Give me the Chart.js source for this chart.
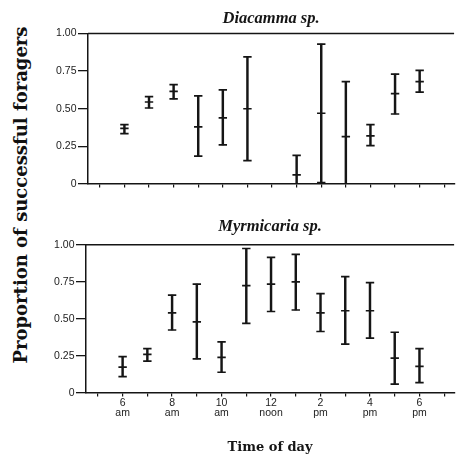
<!DOCTYPE html>
<html>
<head>
<meta charset="utf-8">
<script src="https://cdn.jsdelivr.net/npm/chart.js@4/dist/chart.umd.min.js"></script>
<style>
  html, body { margin:0; padding:0; background:#fff; width:460px; height:458px; overflow:hidden; }
  canvas { position:absolute; left:0; }
  #ytitle { position:absolute; left:19.5px; top:195px; transform:translate(-50%,-50%) rotate(-90deg);
            white-space:nowrap; font-family:'DejaVu Serif', serif; font-weight:bold; font-size:18px; color:#111; }
</style>
</head>
<body>
<div id="ytitle">Proportion of successful foragers</div>
<canvas id="top" width="460" height="192" style="top:0px"></canvas>
<canvas id="bot" width="460" height="258" style="top:200px"></canvas>
<script>
// ---- data ----
const diacammaHours = [6, 7, 8, 9, 10, 11, 13, 14, 15, 16, 17, 18];
const diacammaMean  = [0.37, 0.545, 0.615, 0.38, 0.44, 0.50, 0.06, 0.47, 0.315, 0.32, 0.60, 0.68];
const diacammaLow   = [0.335, 0.505, 0.565, 0.185, 0.26, 0.155, 0.0, 0.01, 0.0, 0.255, 0.465, 0.61];
const diacammaHigh  = [0.395, 0.58, 0.66, 0.585, 0.625, 0.845, 0.19, 0.93, 0.68, 0.395, 0.73, 0.755];

const myrmicariaHours = [6, 7, 8, 9, 10, 11, 12, 13, 14, 15, 16, 17, 18];
const myrmicariaMean  = [0.175, 0.26, 0.54, 0.48, 0.24, 0.725, 0.735, 0.75, 0.54, 0.555, 0.555, 0.235, 0.18];
const myrmicariaLow   = [0.11, 0.215, 0.425, 0.23, 0.14, 0.47, 0.55, 0.56, 0.415, 0.33, 0.37, 0.06, 0.07];
const myrmicariaHigh  = [0.245, 0.30, 0.66, 0.735, 0.345, 0.975, 0.915, 0.935, 0.67, 0.785, 0.745, 0.41, 0.30];

const xTickMarks  = [5, 6, 7, 8, 9, 10, 11, 12, 13, 14, 15, 16, 17, 18, 19];
const xTickHours  = [6, 8, 10, 12, 14, 16, 18];
const xTickLabels = [["6","am"], ["8","am"], ["10","am"], ["12","noon"], ["2","pm"], ["4","pm"], ["6","pm"]];
const yTickValues = [0, 0.25, 0.5, 0.75, 1];
const yTickLabels = ["0", "0.25", "0.50", "0.75", "1.00"];

const INK = '#151515';

const topLine = {
  id: 'topLine',
  afterDraw(chart) {
    const a = chart.chartArea, c = chart.ctx;
    c.save(); c.strokeStyle = INK; c.lineWidth = 1.5;
    c.beginPath(); c.moveTo(a.left, a.top); c.lineTo(a.right, a.top); c.stroke();
    c.restore();
  }
};

function pts(hours, vals) { return hours.map((h, i) => ({x: h, y: vals[i]})); }
function rng(hours, lo, hi) { return hours.map((h, i) => ({x: h, y: [lo[i], hi[i]]})); }

function makeChart(id, title, titlePad, hours, mean, lo, hi, showX, yWidth, xHeight) {
  const marker = { type:'line', showLine:false, pointStyle:'line', pointRadius:4.2, pointHoverRadius:4.2,
                   pointBorderWidth:1.7, pointBorderColor:INK, borderColor:INK, backgroundColor:INK };
  return new Chart(document.getElementById(id), {
    type: 'bar',
    data: {
      datasets: [
        { type:'bar', data: rng(hours, lo, hi), backgroundColor: INK, borderWidth:0, barThickness:1.8, grouped:false },
        Object.assign({ data: pts(hours, mean) }, marker),
        Object.assign({ data: pts(hours, lo) }, marker),
        Object.assign({ data: pts(hours, hi) }, marker)
      ]
    },
    options: {
      responsive:false, animation:false, devicePixelRatio:1,
      layout: { padding: 0 },
      plugins: {
        legend: { display:false }, tooltip: { enabled:false },
        title: { display:true, text:title, fullSize:false, color:INK, padding:titlePad,
                 font:{ family:"'Liberation Serif', serif", size:16.5, style:'italic', weight:'bold', lineHeight:1.2 } }
      },
      scales: {
        x: {
          type:'linear', min:4.52, max:19.4, offset:false,
          afterBuildTicks: s => { s.ticks = xTickMarks.map(v => ({value:v})); },
          afterFit: s => { s.height = xHeight; },
          grid: { drawOnChartArea:false, offset:false, tickLength:3.5, color:INK, lineWidth:1.2 },
          border: { color:INK, width:1.5 },
          ticks: {
            display: showX, autoSkip:false, maxRotation:0, padding:1, color:'#222',
            font: { family:"'Liberation Sans', Arial, sans-serif", size:10.5, lineHeight:1.0 },
            callback: v => { const k = xTickHours.indexOf(v); return k >= 0 ? xTickLabels[k] : ''; }
          },
          title: { display: showX, text:'Time of day', color:INK, padding:{top:0, bottom:2.2},
                   font:{ family:"'DejaVu Serif', serif", size:13, weight:'bold', lineHeight:1.2 } }
        },
        y: {
          min:0, max:1,
          afterBuildTicks: s => { s.ticks = yTickValues.map(v => ({value:v})); },
          afterFit: s => { s.width = yWidth; },
          grid: { drawOnChartArea:false, tickLength:10, color:INK, lineWidth:1.3 },
          border: { color:INK, width:1.5 },
          ticks: {
            padding:1.5, color:'#222',
            font: { family:"'Liberation Sans', Arial, sans-serif", size:10.5 },
            callback: v => { const k = yTickValues.indexOf(v); return k >= 0 ? yTickLabels[k] : ''; }
          }
        }
      }
    },
    plugins: [topLine]
  });
}

makeChart('top', 'Diacamma sp.', {top:9, bottom:4.7},
          diacammaHours, diacammaMean, diacammaLow, diacammaHigh, false, 88, 8);
makeChart('bot', 'Myrmicaria sp.', {top:17, bottom:8},
          myrmicariaHours, myrmicariaMean, myrmicariaLow, myrmicariaHigh, true, 86, 65);
</script>
</body>
</html>
